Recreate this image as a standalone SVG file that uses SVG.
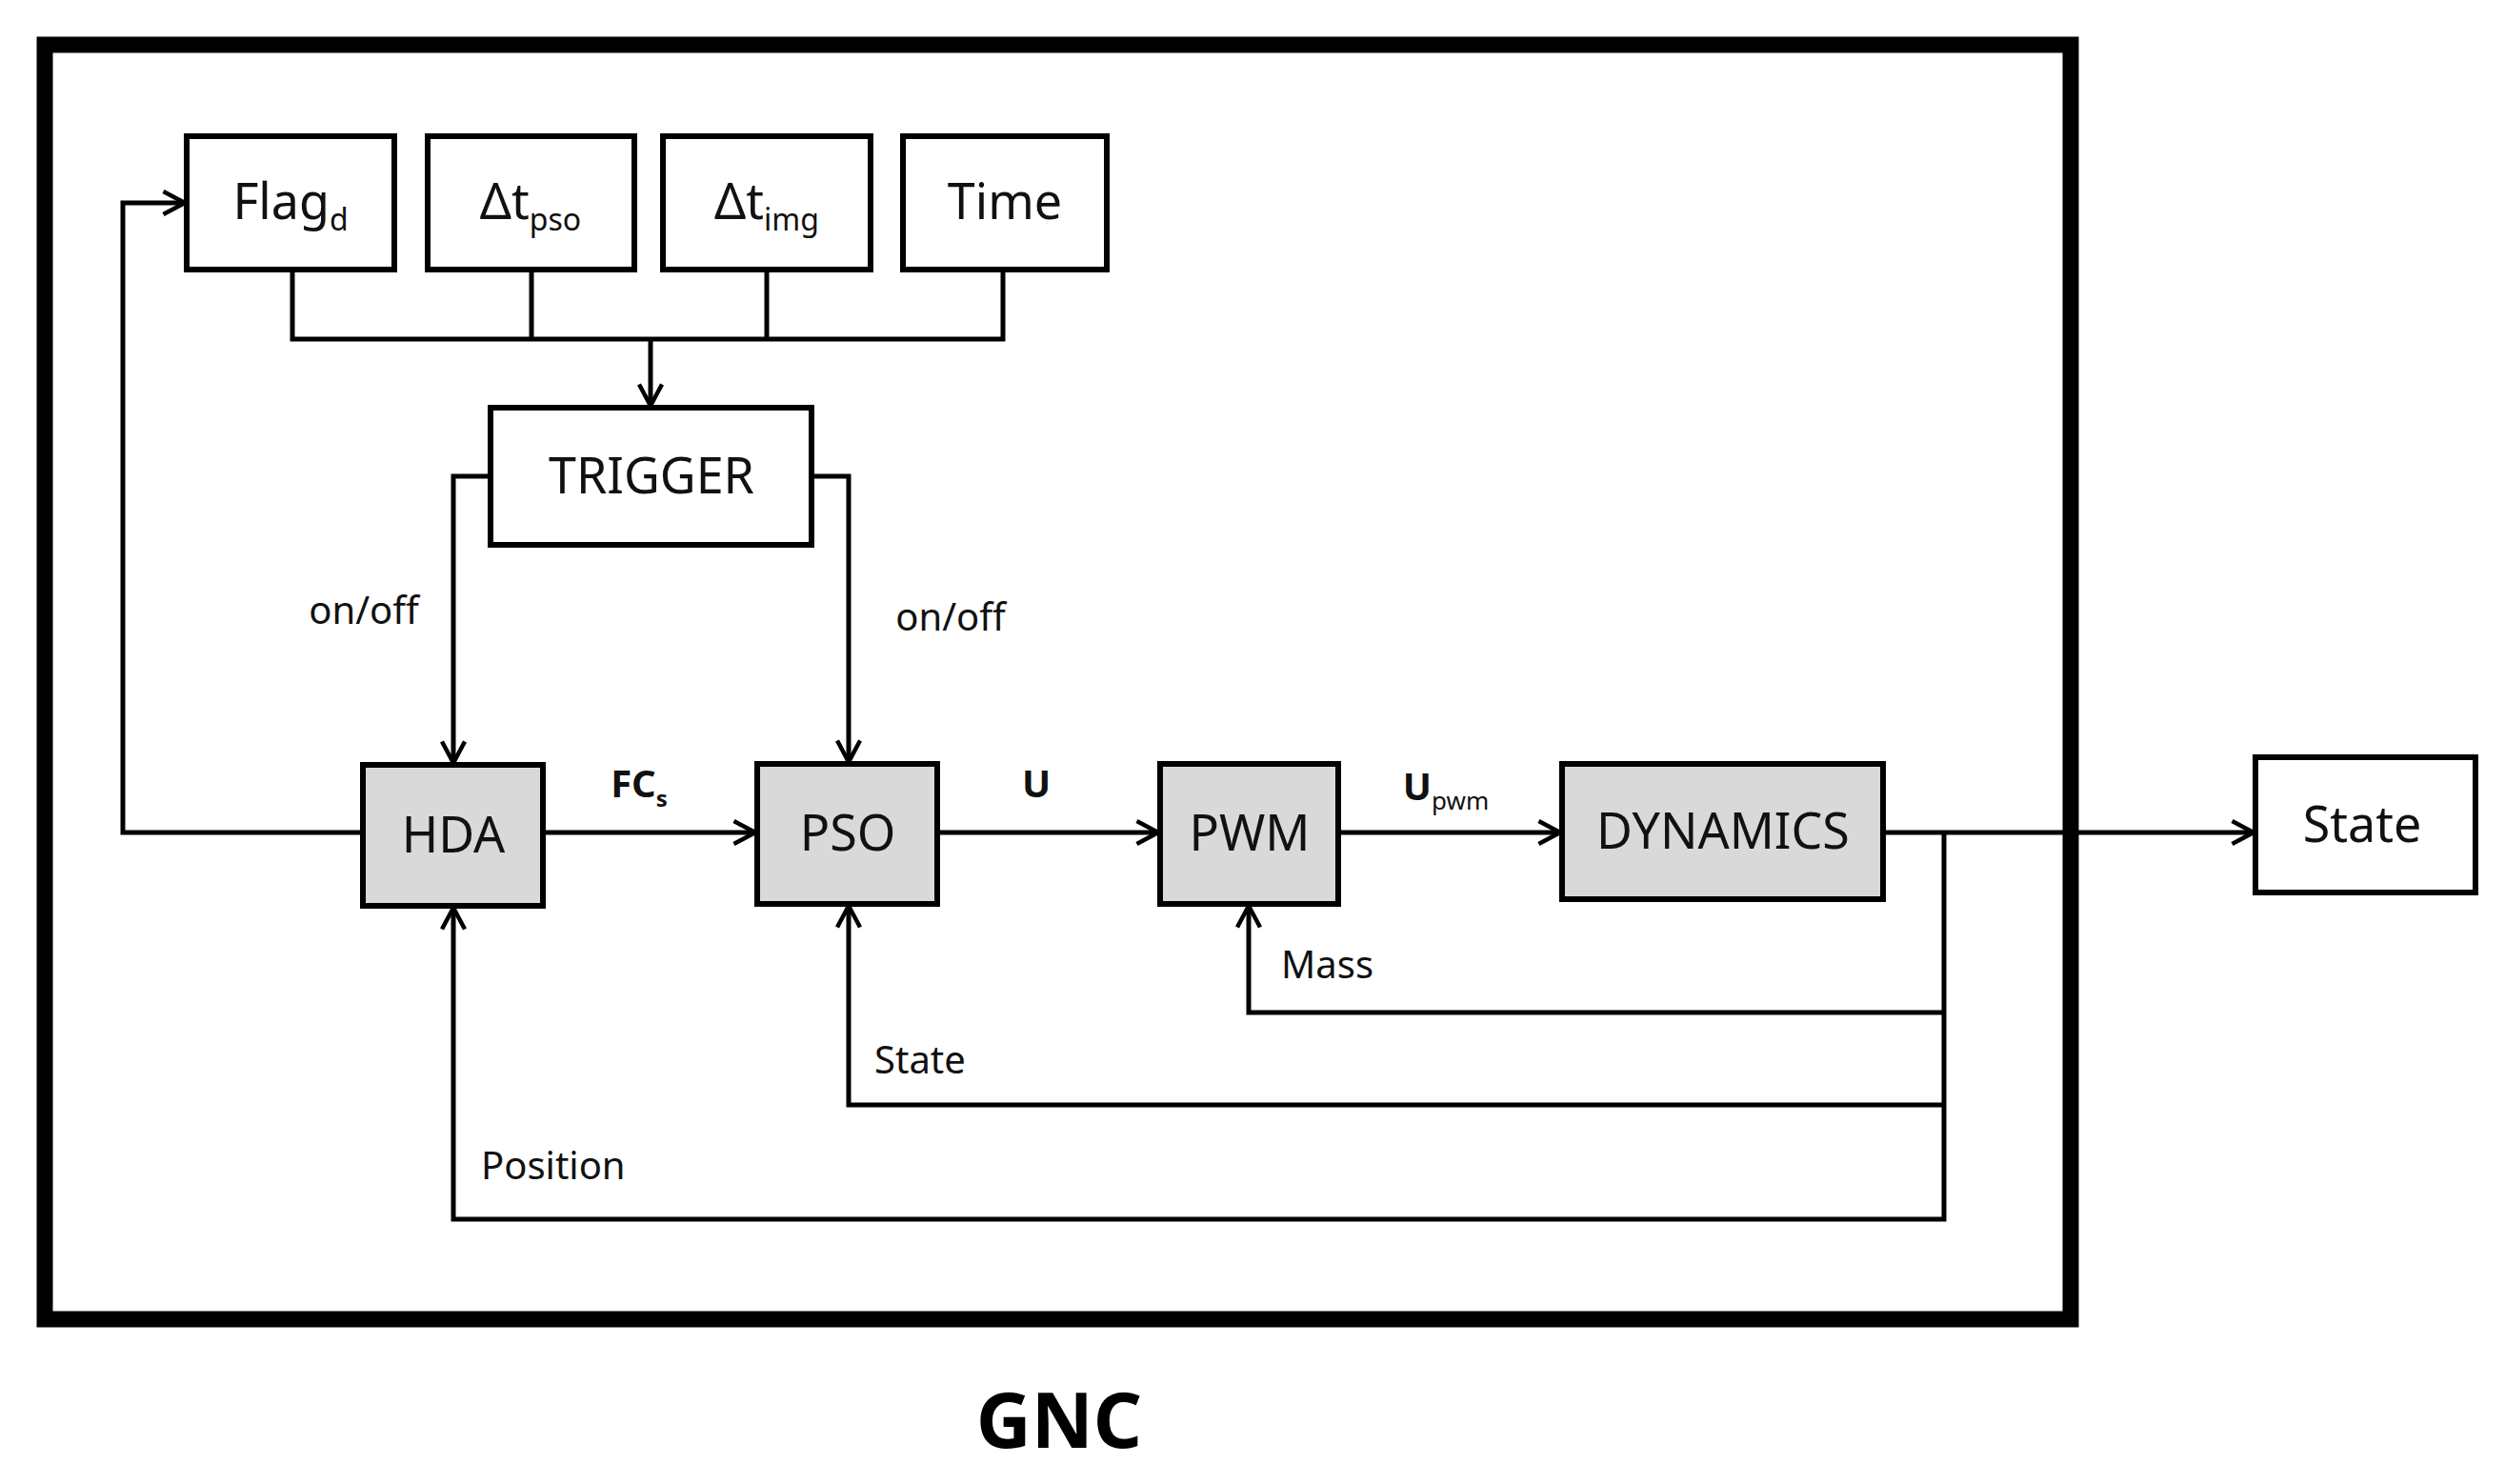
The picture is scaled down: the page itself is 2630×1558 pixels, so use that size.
<svg xmlns="http://www.w3.org/2000/svg" width="2630" height="1558" viewBox="0 0 2630 1558">
<style>
.b{fill:#fff;stroke:#000;stroke-width:6}
.g{fill:#d9d9d9;stroke:#000;stroke-width:6}
.t{font-family:"Noto Sans","Open Sans",sans-serif;font-size:52px;text-anchor:middle;fill:#111}
.s{font-size:32px}
.l{font-family:"Noto Sans","Open Sans",sans-serif;font-size:40px;fill:#111}
.w{fill:none;stroke:#000;stroke-width:5}
</style>
<defs><marker id="a" viewBox="0 0 10 10" refX="9" refY="5" markerWidth="6" markerHeight="6" markerUnits="userSpaceOnUse" orient="auto"><path d="M1,0.5 L9,5 L1,9.5" fill="none" stroke="#000" stroke-width="1.8"/></marker>
<marker id="m" viewBox="0 0 20 20" refX="18" refY="10" markerWidth="30" markerHeight="30" markerUnits="userSpaceOnUse" orient="auto"><path d="M3,2 L18,10 L3,18" fill="none" stroke="#000" stroke-width="3"/></marker></defs>
<rect x="47" y="47" width="2127" height="1338" fill="none" stroke="#000" stroke-width="17"/>
<g id="flag"><rect class="b" x="196" y="143" width="218" height="140"/><text class="t" x="305" y="230">Flag<tspan class="s" dy="12">d</tspan></text></g>
<g id="dtpso"><rect class="b" x="449" y="143" width="217" height="140"/><text class="t" x="557" y="230">Δt<tspan class="s" dy="12">pso</tspan></text></g>
<g id="dtimg"><rect class="b" x="696" y="143" width="218" height="140"/><text class="t" x="805" y="230">Δt<tspan class="s" dy="12">img</tspan></text></g>
<g id="time"><rect class="b" x="948" y="143" width="214" height="140"/><text class="t" x="1055" y="230">Time</text></g>
<g id="trigger"><rect class="b" x="515" y="428" width="337" height="144"/><text class="t" x="684" y="518">TRIGGER</text></g>
<g id="hda"><rect class="g" x="381" y="803" width="189" height="148"/><text class="t" x="476" y="895">HDA</text></g>
<g id="pso"><rect class="g" x="795" y="802" width="189" height="147"/><text class="t" x="890" y="893">PSO</text></g>
<g id="pwm"><rect class="g" x="1218" y="802" width="187" height="147"/><text class="t" x="1312" y="893">PWM</text></g>
<g id="dyn"><rect class="g" x="1640" y="802" width="337" height="142"/><text class="t" x="1809" y="891">DYNAMICS</text></g>
<g id="state"><rect class="b" x="2368" y="795" width="231" height="142"/><text class="t" x="2480" y="884">State</text></g>
<g id="connectors">
<path class="w" d="M307,283 V356 H1053 V283 M558,283 V356 M805,283 V356"/>
<path class="w" d="M683,356 V426" marker-end="url(#m)"/>
<path class="w" d="M515,500 H476 V801" marker-end="url(#m)"/>
<path class="w" d="M852,500 H891 V800" marker-end="url(#m)"/>
<path class="w" d="M570,874 H793" marker-end="url(#m)"/>
<path class="w" d="M984,874 H1216" marker-end="url(#m)"/>
<path class="w" d="M1405,874 H1638" marker-end="url(#m)"/>
<path class="w" d="M1977,874 H2366" marker-end="url(#m)"/>
<path class="w" d="M2041,874 V1280 H476 V953" marker-end="url(#m)"/>
<path class="w" d="M2041,1063 H1311 V951" marker-end="url(#m)"/>
<path class="w" d="M2041,1160 H891 V951" marker-end="url(#m)"/>
<path class="w" d="M381,874 H129 V213 H194" marker-end="url(#m)"/>
<text class="l" x="382" y="655" text-anchor="middle">on/off</text>
<text class="l" x="998" y="662" text-anchor="middle">on/off</text>
<text class="l" x="671" y="837" text-anchor="middle" font-weight="bold" font-size="38">FC<tspan font-size="24" dy="10">s</tspan></text>
<text class="l" x="1088" y="837" text-anchor="middle" font-weight="bold" font-size="38">U</text>
<text class="l" x="1518" y="840" text-anchor="middle" font-weight="bold" font-size="38">U<tspan font-size="26" font-weight="normal" dy="10">pwm</tspan></text>
<text class="l" x="1345" y="1027" font-size="50">Mass</text>
<text class="l" x="918" y="1127" font-size="50">State</text>
<text class="l" x="505" y="1238" font-size="50">Position</text>
</g>
<text x="1112" y="1520" text-anchor="middle" font-family="Noto Sans,sans-serif" font-weight="bold" font-size="80">GNC</text>
</svg>
